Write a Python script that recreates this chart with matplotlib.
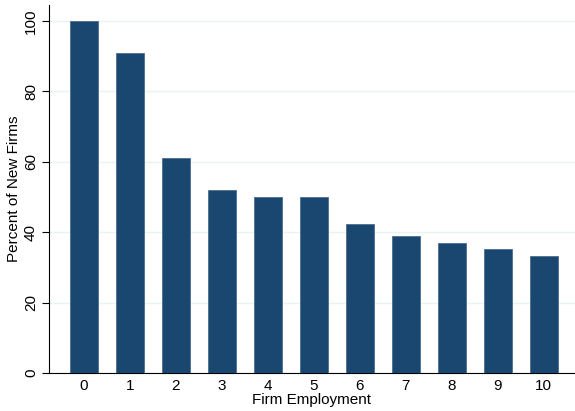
import numpy as np
import matplotlib.pyplot as plt

plt.rcParams['font.family'] = ['Liberation Sans', 'DejaVu Sans']

employment = [0, 1, 2, 3, 4, 5, 6, 7, 8, 9, 10]
pct_new_firms = [100.0, 90.8, 61.1, 52.0, 50.0, 50.0, 42.3, 38.8, 36.9, 35.1, 33.2]

bar_color = '#1a476f'
grid_color = '#eaf2f3'

fig = plt.figure(figsize=(5.75, 4.11), dpi=100)
ax = fig.add_axes([0.0852, 0.0925, 0.9148, 0.895])

x = np.arange(len(employment))
ax.bar(x, pct_new_firms, width=0.61, color=bar_color, edgecolor='#4a6f90', linewidth=0.6, zorder=3)

ax.set_xlim(-0.76, 10.68)
ax.set_ylim(0, 104.5)
ax.set_xticks(x)
ax.set_xticklabels([str(e) for e in employment])
ax.set_yticks([0, 20, 40, 60, 80, 100])
ax.tick_params(axis='x', length=0, labelsize=11, pad=4)
ax.tick_params(axis='y', length=5, width=0.8, labelsize=11, pad=3)
for lab in ax.get_yticklabels():
    lab.set_rotation(90)
    lab.set_va('center')

ax.yaxis.grid(True, color=grid_color, linewidth=1.0, zorder=0)
ax.set_axisbelow(True)

ax.spines['top'].set_visible(False)
ax.spines['right'].set_visible(False)
ax.spines['left'].set_linewidth(0.8)
ax.spines['bottom'].set_linewidth(0.8)

ax.set_xlabel('Firm Employment', fontsize=11, labelpad=0)
ax.set_ylabel('Percent of New Firms', fontsize=11, labelpad=2)

fig.savefig('out.png', dpi=100)
